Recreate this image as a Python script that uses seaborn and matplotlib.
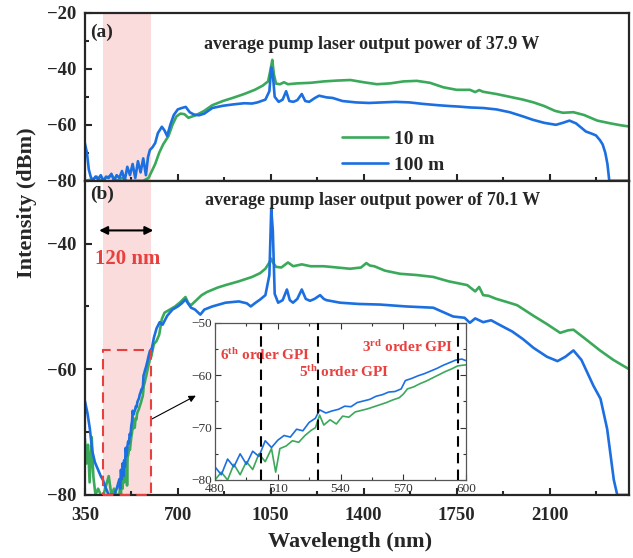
import numpy as np
import pandas as pd
import seaborn as sns
import matplotlib.pyplot as plt
from matplotlib.patches import Rectangle
from matplotlib.ticker import MultipleLocator

# ---- data ----
# (a) 37.9 W
a_10m_wl = [350, 380, 395, 410, 430, 450, 470, 490, 510, 540, 570, 590, 600, 615, 630, 645, 655, 665, 680,
            695, 710, 725, 740, 755, 770, 800, 830, 870, 910, 950, 990, 1020, 1040, 1050, 1056, 1062, 1070,
            1085, 1100, 1115, 1150, 1200, 1250, 1300, 1350, 1400, 1450, 1500, 1550, 1600, 1650, 1700, 1750,
            1800, 1820, 1835, 1850, 1900, 1950, 2000, 2040, 2080, 2120, 2150, 2190, 2230, 2280, 2330, 2370, 2400]
a_10m_db = [-80, -79.5, -78.5, -80, -79, -78, -80, -79, -80, -80, -80, -79, -77, -74, -70, -67, -65.5, -64, -60,
            -57, -56, -56.2, -57.5, -57, -56.5, -55, -53, -51.5, -50.3, -49, -47.5, -46, -44.5, -40, -36.8, -42, -45.3,
            -45.5, -44.8, -45.5, -45.2, -45, -44.5, -44.2, -44, -44.8, -45.5, -45.2, -44.5, -44.3, -45, -46.6, -47.5,
            -47.5, -48.3, -47.6, -48.2, -49, -50, -51, -52, -53.3, -55, -55.7, -55.5, -56.5, -58.5, -59.5, -60.2, -60.6]

a_100m_wl = [350, 358, 365, 372, 380, 390, 400, 410, 420, 430, 440, 450, 460, 470, 480, 490, 500, 510, 520,
             530, 540, 550, 560, 570, 580, 588, 595, 605, 615, 625, 640, 650, 660, 672, 685, 700, 715, 730, 745,
             760, 780, 800, 830, 870, 910, 950, 980, 1000, 1030, 1045, 1052, 1058, 1065, 1080, 1095, 1108, 1120,
             1135, 1150, 1167, 1180, 1195, 1215, 1232, 1260, 1283, 1320, 1371, 1420, 1470, 1520, 1573, 1620,
             1680, 1724, 1760, 1800, 1850, 1900, 1950, 2000, 2037, 2080, 2124, 2150, 2175, 2200, 2237, 2260,
             2275, 2290, 2300, 2310, 2318, 2325, 2400]
a_100m_db = [-66.5, -70, -76, -78.5, -80, -78.5, -79.5, -78, -80, -78.5, -79, -77.5, -80, -78, -79, -76.5, -80, -75, -78,
             -74, -79, -73, -77, -72, -78, -71.5, -69, -68, -66.5, -63, -60.7, -62, -64, -60, -56.5, -54.5, -54, -53.6, -55.5,
             -56.3, -56.6, -56, -54, -53.2, -52.7, -52.3, -52.4, -52, -51, -48, -39.5, -42, -50, -51.8, -51, -48, -51.5,
             -51.8, -51.2, -49, -51.5, -51.8, -50.5, -49.6, -50.2, -50.4, -51.5, -52, -52.2, -52, -51.8, -52, -52.5,
             -53, -53.3, -53.5, -53.8, -54, -54.5, -55.5, -57, -58.2, -59.3, -60, -59.3, -58.5, -59.5, -62.4, -63.2,
             -63.8, -65.5, -67, -70, -74, -80, -80]

# (b) 70.1 W, zoomed part 480-600 nm (also used in the inset)
z_wl_100m = [480, 483, 486, 489, 492, 495, 498, 501, 504, 507, 510, 513, 516, 519, 522, 525, 528, 530, 533, 536,
             539, 542, 545, 548, 551, 554, 557, 560, 563, 566, 569, 571, 574, 577, 580, 583, 586, 589, 592, 595, 598, 600]
z_db_100m = [-77.5, -79, -76, -77.5, -75, -77, -74.5, -75.5, -72.5, -73.8, -72.4, -71.5, -71.8, -70.3, -70.6, -69, -68.2,
             -66.6, -67.2, -66.8, -66.5, -65.9, -66.0, -65.2, -64.9, -64.6, -64.0, -63.7, -63.2, -63.1, -62.6, -61.0,
             -60.6, -60.1, -59.7, -59.2, -58.7, -58.1, -57.6, -57.1, -56.9, -57.2]
z_wl_10m = [480, 483, 486, 489, 492, 495, 498, 501, 504, 507, 509, 511, 514, 517, 520, 523, 526, 528, 530, 532, 535,
            538, 541, 544, 547, 550, 553, 556, 559, 562, 565, 568, 570, 572, 575, 578, 581, 584, 587, 590, 593, 596, 600]
z_db_10m = [-80, -78.5, -80, -77, -79, -76.5, -78, -75, -76.5, -74, -78.5, -74, -73.5, -72.5, -72.8, -71.5, -70.5, -70,
            -67.6, -69.5, -68.5, -69.3, -67.8, -68, -67, -66.7, -66.4, -66, -65.6, -65.2, -64.7, -64.3, -63.6, -62.6,
            -62.2, -61.6, -61.1, -60.5, -59.9, -59.3, -58.8, -58.2, -58]

b_10m_wl = ([350, 356, 362, 368, 376, 382, 390, 400, 410, 420, 430, 440, 450, 460, 470] + z_wl_10m +
            [610, 620, 630, 640, 650, 670, 690, 710, 729, 740, 750, 770, 790, 810, 850, 880, 930, 980, 1010, 1030,
             1045, 1052, 1058, 1070, 1090, 1115, 1135, 1167, 1200, 1250, 1300, 1349, 1390, 1410, 1424, 1440, 1480,
             1537, 1600, 1662, 1720, 1790, 1820, 1835, 1850, 1870, 1900, 1940, 1978, 2040, 2090, 2140, 2170, 2190,
             2230, 2290, 2340, 2400])
b_10m_db = ([-71, -75, -72, -78, -70.8, -77, -80, -79, -80, -80, -78.5, -77, -80, -79, -80] + z_db_10m +
            [-56, -55.5, -54.5, -52, -51, -50.5, -50, -49.3, -48.5, -49.5, -49.8, -49, -48.2, -47.7, -47, -46.6, -46,
             -45.3, -44.7, -44, -43, -42.4, -43, -43.7, -43.8, -43, -43.6, -43.3, -43.6, -43.6, -43.8, -44, -43.8,
             -43.1, -43.5, -43.6, -44.3, -44.8, -45, -45.3, -46, -46.6, -47.6, -46.9, -48.2, -48.3, -48.8, -49.3,
             -49.8, -51.5, -52.8, -54.2, -53.8, -53.7, -55, -57, -58.5, -60])

b_100m_wl = ([350, 360, 369, 378, 388, 400, 410, 418, 430, 440, 460, 470] + z_wl_100m +
             [610, 620, 632, 643, 660, 680, 700, 715, 729, 740, 750, 765, 785, 800, 830, 880, 930, 960, 975, 990,
              1010, 1030, 1045, 1052, 1058, 1065, 1078, 1095, 1111, 1122, 1134, 1150, 1167, 1182, 1198, 1215, 1236,
              1250, 1260, 1311, 1380, 1462, 1560, 1662, 1737, 1780, 1800, 1820, 1850, 1880, 1915, 1960, 2000, 2040,
              2090, 2130, 2160, 2190, 2220, 2265, 2292, 2317, 2342, 2355, 2400])
b_100m_db = ([-65, -67, -69.5, -73, -74.8, -76, -77, -77.6, -79, -80, -80, -79] + z_db_100m +
             [-55, -53.5, -52.5, -52.9, -51.5, -50.5, -50, -49.5, -48.9, -49.6, -50.2, -50.5, -51.3, -50.5, -50, -49.4,
              -49.2, -49.5, -50, -49.5, -48.9, -48.2, -45, -34.4, -38, -48, -49.4, -49, -47.3, -49, -49.4, -48.8, -47.3,
              -48.8, -49.1, -48.8, -48.2, -48.8, -49, -49.4, -49.6, -49.7, -50, -50.2, -51.6, -51.8, -52.6, -51.9,
              -52.5, -52.2, -53, -54, -55.2, -56.6, -58, -58.7, -58, -57, -58.5, -62.6, -64.7, -69.5, -77.6, -80, -80])

gpi_lines = [502, 529, 596]

green = '#3BA95A'
blue = '#1C6FE0'
red = '#E8403F'
pink = '#FADCDC'

sns.set_style('ticks')
plt.rcParams['font.family'] = ['Liberation Serif', 'DejaVu Serif']
plt.rcParams['font.weight'] = 'bold'
plt.rcParams['axes.labelweight'] = 'bold'
plt.rcParams['mathtext.fontset'] = 'custom'
plt.rcParams['mathtext.rm'] = 'Liberation Serif:bold'
plt.rcParams['mathtext.bf'] = 'Liberation Serif:bold'
plt.rcParams['mathtext.default'] = 'bf'

fig = plt.figure(figsize=(6.33, 5.58), dpi=100)
ax_a = fig.add_axes([0.134, 0.676, 0.860, 0.301])
ax_b = fig.add_axes([0.134, 0.113, 0.860, 0.563])

df_a10 = pd.DataFrame({'wl': a_10m_wl, 'dB': a_10m_db})
df_a100 = pd.DataFrame({'wl': a_100m_wl, 'dB': a_100m_db})
df_b10 = pd.DataFrame({'wl': b_10m_wl, 'dB': b_10m_db})
df_b100 = pd.DataFrame({'wl': b_100m_wl, 'dB': b_100m_db})

for ax in (ax_a, ax_b):
    ax.axvspan(420, 600, color=pink, zorder=0, lw=0)

sns.lineplot(data=df_a10, x='wl', y='dB', color=green, lw=1.9, label='10 m', ax=ax_a, sort=False, estimator=None)
sns.lineplot(data=df_a100, x='wl', y='dB', color=blue, lw=1.9, label='100 m', ax=ax_a, sort=False, estimator=None)
sns.lineplot(data=df_b10, x='wl', y='dB', color=green, lw=1.9, ax=ax_b, sort=False, estimator=None, legend=False)
sns.lineplot(data=df_b100, x='wl', y='dB', color=blue, lw=1.9, ax=ax_b, sort=False, estimator=None, legend=False)

for ax in (ax_a, ax_b):
    ax.set_xlim(350, 2400)
    ax.xaxis.set_major_locator(MultipleLocator(350))
    ax.xaxis.set_minor_locator(MultipleLocator(175))
    ax.yaxis.set_major_locator(MultipleLocator(20))
    ax.yaxis.set_minor_locator(MultipleLocator(10))
    ax.tick_params(which='both', direction='in', top=False, right=False, width=1.5, labelsize=13.5)
    ax.tick_params(which='major', length=5)
    ax.tick_params(which='minor', length=3)
    ax.tick_params(axis='x', pad=9)
    ax.tick_params(axis='y', pad=6)
    for s in ax.spines.values():
        s.set_linewidth(1.6)
    ax.set_xlabel('')
    ax.set_ylabel('')

ax_a.set_ylim(-80, -20)
ax_a.set_yticks([-80, -60, -40, -20])
ax_a.tick_params(axis='x', labelbottom=False)
ax_b.set_ylim(-80, -30)
ax_b.set_yticks([-80, -60, -40])

ax_a.legend(loc='lower left', bbox_to_anchor=(0.472, 0.04), frameon=False, fontsize=14,
            handlelength=2.4, handletextpad=0.3, labelspacing=0.45, borderpad=0, borderaxespad=0)

ax_a.text(370, -26.8, '(a)', fontsize=14, va='center', ha='left')
ax_b.text(370, -32.1, '(b)', fontsize=14, va='center', ha='left')
ax_a.text(1432, -31.4, 'average pump laser output power of 37.9 W', fontsize=13, ha='center', va='center')
ax_b.text(1432, -33.2, 'average pump laser output power of 70.1 W', fontsize=13, ha='center', va='center')

ax_b.annotate('', xy=(404, -37.9), xytext=(608, -37.9),
              arrowprops=dict(arrowstyle='<|-|>', color='black', lw=1.5, mutation_scale=12, shrinkA=0, shrinkB=0))
ax_b.text(512, -42.4, '120 nm', color=red, fontsize=15, ha='center', va='center')
ax_b.add_patch(Rectangle((420, -80), 180, 23, fill=False, edgecolor=red, lw=1.5, ls=(0, (5, 3)), zorder=5,
                         clip_on=False))
ax_b.annotate('', xy=(768, -64.2), xytext=(603, -67.9),
              arrowprops=dict(arrowstyle='-|>', color='black', lw=0.8, mutation_scale=10, shrinkA=0, shrinkB=0))

ax_b.set_xlabel('Wavelength (nm)', fontsize=16, fontweight='bold')
ax_b.xaxis.set_label_coords(0.487, -0.118)
ax_b.xaxis.label.set_va('top')
fig.text(0.043, 0.636, 'Intensity (dBm)', rotation=90, fontsize=16, ha='center', va='center', fontweight='bold')

# ---- inset ----
ax_in = fig.add_axes([0.3397, 0.1398, 0.3965, 0.2814])
df_z10 = pd.DataFrame({'wl': z_wl_10m, 'dB': z_db_10m})
df_z100 = pd.DataFrame({'wl': z_wl_100m, 'dB': z_db_100m})
sns.lineplot(data=df_z10, x='wl', y='dB', color=green, lw=1.2, ax=ax_in, sort=False, estimator=None, legend=False)
sns.lineplot(data=df_z100, x='wl', y='dB', color=blue, lw=1.2, ax=ax_in, sort=False, estimator=None, legend=False)
for g in gpi_lines:
    ax_in.axvline(g, color='black', lw=1.5, ls=(0, (5, 3)), zorder=4)
ax_in.set_xlim(480, 600)
ax_in.set_ylim(-80, -50)
ax_in.set_xticks([480, 510, 540, 570, 600])
ax_in.set_yticks([-80, -70, -60, -50])
ax_in.xaxis.set_minor_locator(MultipleLocator(15))
ax_in.yaxis.set_minor_locator(MultipleLocator(5))
ax_in.tick_params(which='both', direction='in', top=True, right=True, width=0.8, labelsize=9.5, pad=2,
                  colors='#333333')
ax_in.tick_params(which='major', length=4)
ax_in.tick_params(which='minor', length=2)
for lab in ax_in.get_xticklabels() + ax_in.get_yticklabels():
    lab.set_fontweight('normal')
for s in ax_in.spines.values():
    s.set_linewidth(0.9)
    s.set_color('#555555')
ax_in.set_xlabel('')
ax_in.set_ylabel('')

ax_in.text(482.4, -56.1, '6$^{th}$ order GPI', color=red, fontsize=11, ha='left', va='center')
ax_in.text(520.2, -59.4, '5$^{th}$ order GPI', color=red, fontsize=11, ha='left', va='center')
ax_in.text(550.3, -54.6, '3$^{rd}$ order GPI', color=red, fontsize=11, ha='left', va='center')

fig.savefig('out.png', dpi=100)
